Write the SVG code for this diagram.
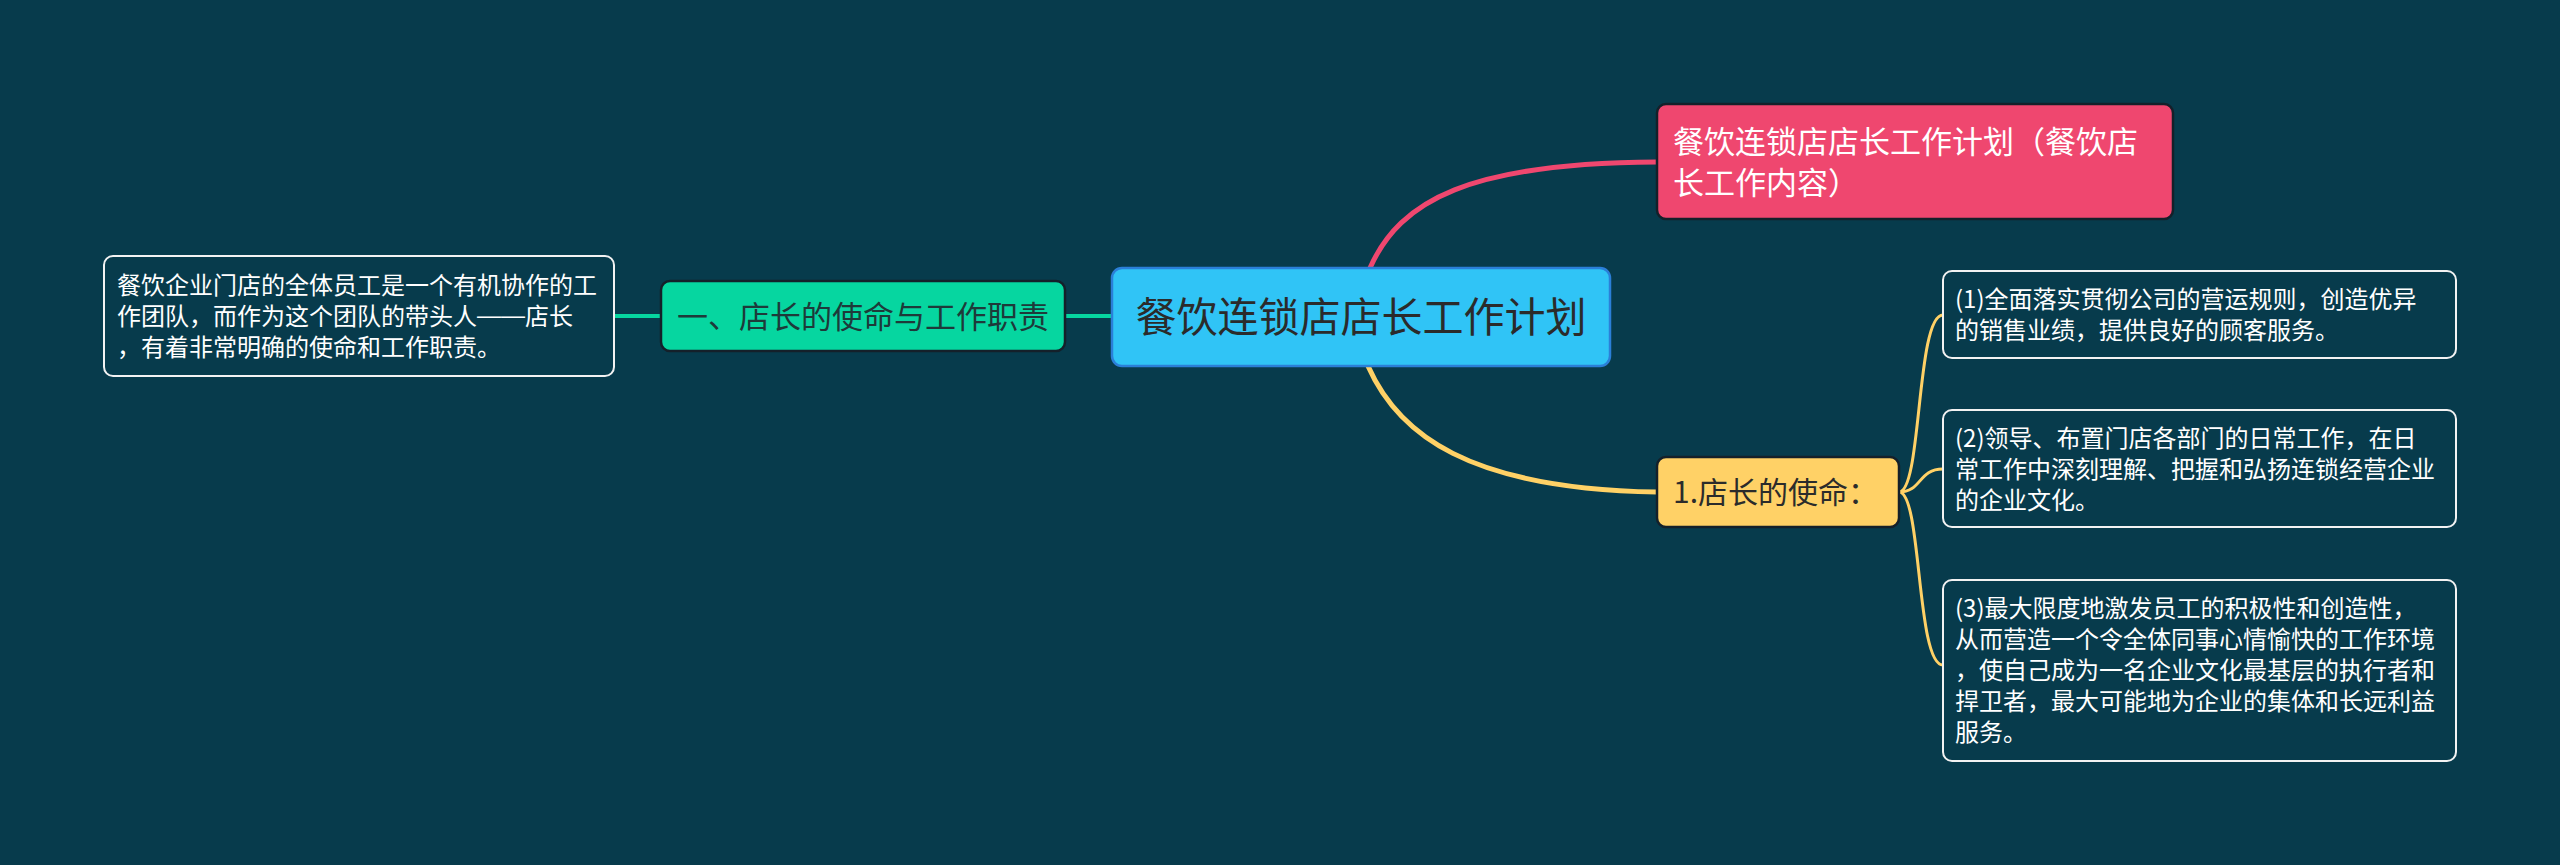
<svg xmlns="http://www.w3.org/2000/svg" width="2560" height="865" viewBox="0 0 2560 865">
<style>
text{font-family:"Noto Sans CJK SC","Noto Sans",sans-serif;}
.detail rect{fill:#073B4C;stroke:#F2F2F2;stroke-width:2;}
.detail text{fill:#FFFFFF;font-size:24px;}
.main rect{stroke:#14202A;stroke-width:2.5;}
.conn path{fill:none;stroke-linecap:round;}
.dash{font-family:"Liberation Sans","Noto Sans CJK SC",sans-serif;}
</style>
<rect x="0" y="0" width="2560" height="865" fill="#073B4C"/>
<g id="connectors" class="conn">
  <path d="M614 316 L661 316" stroke="#06D6A0" stroke-width="4"/>
  <path d="M1065 316 L1112 316" stroke="#06D6A0" stroke-width="4"/>
  <path d="M1370 268 C1400 200, 1470 163, 1657 162" stroke="#EF476F" stroke-width="5"/>
  <path d="M1368 366 C1398 434, 1468 489, 1657 492" stroke="#FFD166" stroke-width="5"/>
  <path d="M1899 492 C1922 492, 1916 315, 1943 315" stroke="#FFD166" stroke-width="3"/>
  <path d="M1899 492 C1922 492, 1918 469, 1943 469" stroke="#FFD166" stroke-width="3"/>
  <path d="M1899 492 C1922 492, 1916 665, 1943 665" stroke="#FFD166" stroke-width="3"/>
</g>
<g id="center">
  <rect x="1112" y="268" width="498" height="98" rx="10" fill="#30C4F6" stroke="#2B7FD8" stroke-width="2.5"/>
  <text x="1361" y="332" font-size="41" fill="#2B2B2B" text-anchor="middle">餐饮连锁店店长工作计划</text>
</g>
<g id="node-pink" class="main">
  <rect x="1657" y="104" width="516" height="115" rx="9" fill="#EF476F"/>
  <text x="1673" y="153" font-size="31" fill="#FFFFFF">餐饮连锁店店长工作计划（餐饮店</text>
  <text x="1673" y="194" font-size="31" fill="#FFFFFF">长工作内容）</text>
</g>
<g id="node-green" class="main">
  <rect x="661" y="281" width="404" height="70" rx="9" fill="#06D6A0"/>
  <text x="863" y="328" font-size="31" fill="#1E3A3A" text-anchor="middle">一、店长的使命与工作职责</text>
</g>
<g id="node-left" class="detail">
  <rect x="104" y="256" width="510" height="120" rx="9"/>
  <text x="117" y="294">餐饮企业门店的全体员工是一个有机协作的工</text>
  <text x="117" y="325">作团队，而作为这个团队的带头人<tspan class="dash" dy="-2">——</tspan><tspan dy="2">店长</tspan></text>
  <text x="117" y="356">，有着非常明确的使命和工作职责。</text>
</g>
<g id="node-yellow" class="main">
  <rect x="1657" y="457" width="242" height="70" rx="9" fill="#FFD166"/>
  <text x="1673" y="503" font-size="30" fill="#2B2B2B">1.店长的使命：</text>
</g>
<g id="node-r1" class="detail">
  <rect x="1943" y="271" width="513" height="87" rx="9"/>
  <text x="1955" y="308">(1)全面落实贯彻公司的营运规则，创造优异</text>
  <text x="1955" y="339">的销售业绩，提供良好的顾客服务。</text>
</g>
<g id="node-r2" class="detail">
  <rect x="1943" y="410" width="513" height="117" rx="9"/>
  <text x="1955" y="447">(2)领导、布置门店各部门的日常工作，在日</text>
  <text x="1955" y="478">常工作中深刻理解、把握和弘扬连锁经营企业</text>
  <text x="1955" y="509">的企业文化。</text>
</g>
<g id="node-r3" class="detail">
  <rect x="1943" y="580" width="513" height="181" rx="9"/>
  <text x="1955" y="617">(3)最大限度地激发员工的积极性和创造性，</text>
  <text x="1955" y="648">从而营造一个令全体同事心情愉快的工作环境</text>
  <text x="1955" y="679">，使自己成为一名企业文化最基层的执行者和</text>
  <text x="1955" y="710">捍卫者，最大可能地为企业的集体和长远利益</text>
  <text x="1955" y="741">服务。</text>
</g>
</svg>
